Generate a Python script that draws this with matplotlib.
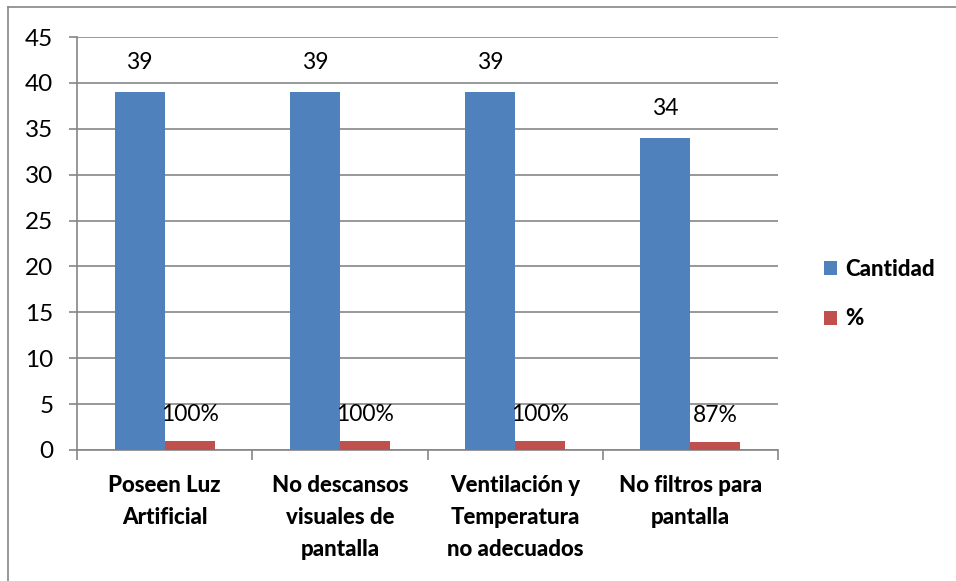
import numpy as np
import matplotlib.pyplot as plt
from matplotlib.lines import Line2D

categorias = ['Poseen Luz\nArtificial', 'No descansos\nvisuales de\npantalla',
              'Ventilación y\nTemperatura\nno adecuados', 'No filtros para\npantalla']
cantidad = [39, 39, 39, 34]
porcentaje = [1.0, 1.0, 1.0, 0.87]
etiq_pct = ['100%', '100%', '100%', '87%']
yticks = [0, 5, 10, 15, 20, 25, 30, 35, 40, 45]

plt.rcParams['font.family'] = ['Lato', 'DejaVu Sans']
gris = '#868686'
azul = '#4f81bd'
rojo = '#c0504d'

fig = plt.figure(figsize=(9.56, 5.81), dpi=100)
ax = fig.add_axes([77 / 956, 1 - 450 / 581, 701 / 956, 413 / 581])

x = np.arange(len(categorias))
w = 0.285
b1 = ax.bar(x - w / 2, cantidad, w, color=azul, label='Cantidad', zorder=3)
b2 = ax.bar(x + w / 2, porcentaje, w, color=rojo, label='%', zorder=3)

for r, v in zip(b1, cantidad):
    ax.annotate(str(v), (r.get_x() + r.get_width() / 2, r.get_height()),
                xytext=(0, 21), textcoords='offset points', ha='center', va='center', fontsize=16.5)
for r, t in zip(b2, etiq_pct):
    ax.annotate(t, (r.get_x() + r.get_width() / 2, r.get_height()),
                xytext=(0, 19), textcoords='offset points', ha='center', va='center', fontsize=16.5)

ax.set_xlim(-0.5, len(categorias) - 0.5)
ax.set_ylim(0, 45)
ax.set_yticks(yticks)
ax.yaxis.grid(True, color=gris, linewidth=1.2, zorder=0)
ax.tick_params(axis='y', length=6, color=gris, width=1.2, labelsize=17.5, pad=11)

ax.set_xticks(np.arange(len(categorias) + 1) - 0.5, minor=False)
ax.set_xticklabels([])
ax.tick_params(axis='x', length=7, color=gris, width=1.2)
ax.set_xticks(x, minor=True)
ax.set_xticklabels(categorias, minor=True, fontsize=16, fontweight='black', linespacing=1.65)
ax.tick_params(axis='x', which='minor', length=0, pad=18)

for s in ['top', 'right']:
    ax.spines[s].set_visible(False)
for s in ['left', 'bottom']:
    ax.spines[s].set_color(gris)
    ax.spines[s].set_linewidth(1.2)

leg = fig.legend(handles=[b1, b2], loc='center left', bbox_to_anchor=(804 / 956, 1 - 294 / 581),
                 frameon=False, handlelength=0.6, handleheight=0.6, handletextpad=0.35,
                 labelspacing=1.3, prop={'size': 16, 'weight': 'black'})

# marco del grafico (solo bordes superior e izquierdo visibles)
fx, fy = 7.5 / 956, 1 - 7 / 581
fig.lines.append(Line2D([fx, 1], [fy, fy], transform=fig.transFigure, color=gris, linewidth=1.2))
fig.lines.append(Line2D([fx, fx], [0, fy], transform=fig.transFigure, color=gris, linewidth=1.2))

fig.savefig('out.png', dpi=100)
